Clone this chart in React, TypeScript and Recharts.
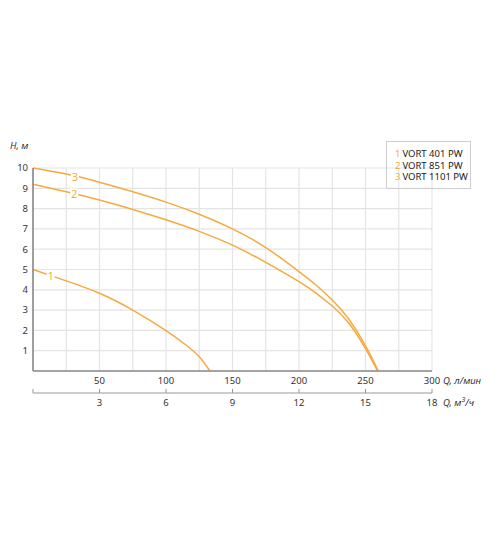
import { LineChart, Line, XAxis, YAxis, CartesianGrid, ReferenceDot } from 'recharts'

const ORANGE = '#f5aa40'
const FONT = '"Noto Sans", "Open Sans", sans-serif'

// Q, л/мин -> H, м
const vort401 = [
  { q: 0, h: 5 },
  { q: 25, h: 4.44 },
  { q: 50, h: 3.83 },
  { q: 75, h: 3.0 },
  { q: 100, h: 1.99 },
  { q: 115, h: 1.28 },
  { q: 125, h: 0.7 },
  { q: 133, h: 0 }
]

const vort851 = [
  { q: 0, h: 9.2 },
  { q: 25, h: 8.83 },
  { q: 50, h: 8.42 },
  { q: 75, h: 7.96 },
  { q: 100, h: 7.45 },
  { q: 125, h: 6.88 },
  { q: 150, h: 6.2 },
  { q: 175, h: 5.35 },
  { q: 200, h: 4.4 },
  { q: 212.5, h: 3.85 },
  { q: 225, h: 3.2 },
  { q: 237.5, h: 2.35 },
  { q: 250, h: 1.1 },
  { q: 259, h: 0 }
]

const vort1101 = [
  { q: 0, h: 10 },
  { q: 25, h: 9.7 },
  { q: 50, h: 9.3 },
  { q: 75, h: 8.83 },
  { q: 100, h: 8.32 },
  { q: 125, h: 7.72 },
  { q: 150, h: 7.0 },
  { q: 175, h: 6.08 },
  { q: 200, h: 4.9 },
  { q: 212.5, h: 4.25 },
  { q: 225, h: 3.5 },
  { q: 237.5, h: 2.55 },
  { q: 250, h: 1.25 },
  { q: 259.6, h: 0 }
]

const qTicks = [0, 25, 50, 75, 100, 125, 150, 175, 200, 225, 250, 275, 300]
const m3Ticks = [0, 3, 6, 9, 12, 15, 18]
const hTicks = [1, 2, 3, 4, 5, 6, 7, 8, 9, 10]

const curveLabels = [
  { name: '3', q: 31.5, h: 9.55 },
  { name: '2', q: 31, h: 8.7 },
  { name: '1', q: 13.3, h: 4.65 }
]

const legendItems = [
  { num: '1', name: 'VORT 401 PW' },
  { num: '2', name: 'VORT 851 PW' },
  { num: '3', name: 'VORT 1101 PW' }
]

// empty series so the m³/ч axis has something bound to it
const m3Blank = m3Ticks.map((m) => ({ m, h: null }))

const M3Tick = (props: any) => {
  const { x, y, payload } = props
  return (
    <g>
      <line x1={x} x2={x} y1={y - 6} y2={y - 10} stroke='#999' strokeWidth={1} />
      <text x={x} y={y} dy='0.71em' textAnchor='middle' fontSize={9.5} fill='#333' fontFamily={FONT}>
        {payload.value === 0 ? '' : payload.value}
      </text>
    </g>
  )
}

const CurveLabel = (text: string) => (props: any) => {
  const { cx, cy } = props
  return (
    <g>
      <rect x={cx - 4} y={cy - 6} width={8} height={12} fill='#fff' />
      <text x={cx} y={cy} dy='0.36em' textAnchor='middle' fontSize={10.5} fill={ORANGE} fontFamily={FONT}>
        {text}
      </text>
    </g>
  )
}

export default function App() {
  return (
    <div style={{ position: 'absolute', left: 0, top: 0, width: 500, height: 538, background: '#fff', fontFamily: FONT }}>
      <LineChart width={500} height={538} margin={{ top: 168, right: 68, left: 0, bottom: 115 }}>
        <CartesianGrid xAxisId='a' stroke='#e4e4e4' strokeWidth={1.2} />
        <XAxis
          xAxisId='a'
          type='number'
          dataKey='q'
          domain={[0, 300]}
          ticks={qTicks}
          interval={0}
          height={22}
          tickSize={0}
          tickMargin={6}
          tickLine={false}
          axisLine={{ stroke: '#8a8a8a', strokeWidth: 1.6 }}
          tick={{ fontSize: 9.5, fill: '#333', fontFamily: FONT }}
          tickFormatter={(v: number) => (v > 0 && v % 50 === 0 ? String(v) : '')}
        />
        <XAxis
          xAxisId='b'
          type='number'
          dataKey='m'
          domain={[0, 18]}
          ticks={m3Ticks}
          interval={0}
          height={30}
          tickSize={0}
          tickMargin={6}
          tickLine={false}
          axisLine={{ stroke: '#999', strokeWidth: 1 }}
          tick={<M3Tick />}
        />
        <YAxis
          type='number'
          domain={[0, 10]}
          ticks={hTicks}
          interval={0}
          width={33}
          tickSize={0}
          tickMargin={5}
          tickLine={false}
          axisLine={{ stroke: '#8a8a8a', strokeWidth: 1.6 }}
          tick={{ fontSize: 9.5, fill: '#333', fontFamily: FONT }}
        />
        <Line xAxisId='a' data={vort401} dataKey='h' type='natural' stroke={ORANGE} strokeWidth={1.5} dot={false} isAnimationActive={false} />
        <Line xAxisId='a' data={vort851} dataKey='h' type='natural' stroke={ORANGE} strokeWidth={1.5} dot={false} isAnimationActive={false} />
        <Line xAxisId='a' data={vort1101} dataKey='h' type='natural' stroke={ORANGE} strokeWidth={1.5} dot={false} isAnimationActive={false} />
        <Line xAxisId='b' data={m3Blank} dataKey='h' stroke='none' dot={false} activeDot={false} isAnimationActive={false} />
        {curveLabels.map((c) => (
          <ReferenceDot key={c.name} xAxisId='a' x={c.q} y={c.h} r={5} shape={CurveLabel(c.name)} />
        ))}
      </LineChart>

      <div style={{ position: 'absolute', left: 10, top: 140, fontSize: 9.5, fontStyle: 'italic', color: '#333', lineHeight: '12px' }}>
        H, м
      </div>
      <div style={{ position: 'absolute', left: 443, top: 375, fontSize: 9.5, fontStyle: 'italic', color: '#333', lineHeight: '12px' }}>
        Q, л/мин
      </div>
      <div style={{ position: 'absolute', left: 443, top: 397, fontSize: 9.5, fontStyle: 'italic', color: '#333', lineHeight: '12px' }}>
        Q, м<sup style={{ fontSize: 7, lineHeight: 0 }}>3</sup>/ч
      </div>

      <div
        style={{
          position: 'absolute',
          left: 386,
          top: 141,
          width: 83,
          height: 46,
          border: '1px solid #cfcfcf',
          fontSize: 9.5,
          color: '#222',
          lineHeight: '11.7px'
        }}
      >
        <div style={{ paddingLeft: 8, paddingTop: 6 }}>
          {legendItems.map((it) => (
            <div key={it.num} style={{ whiteSpace: 'nowrap' }}>
              <span style={{ color: ORANGE, marginRight: 2 }}>{it.num}</span>
              {it.name}
            </div>
          ))}
        </div>
      </div>
    </div>
  )
}
